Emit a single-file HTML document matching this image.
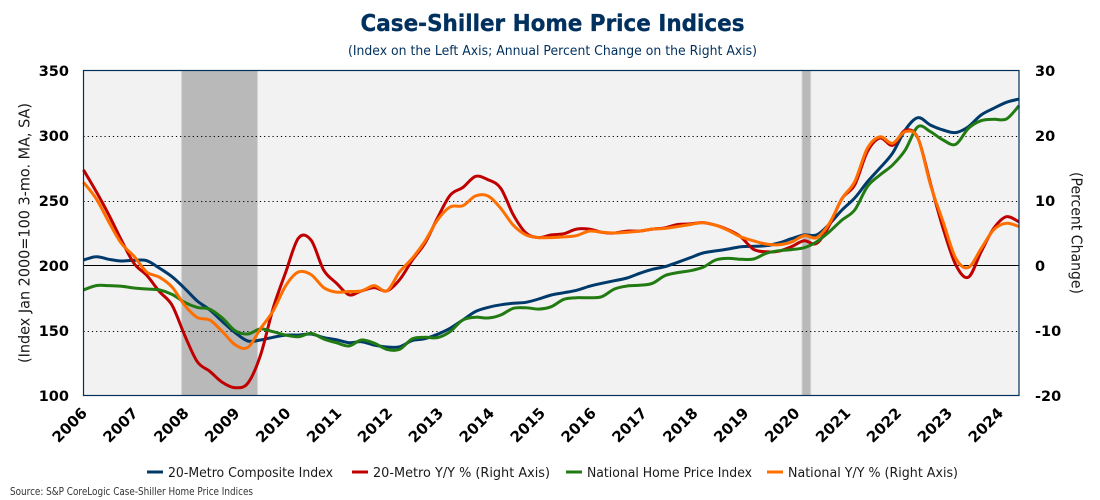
<!DOCTYPE html>
<html lang="en">
<head>
<meta charset="utf-8">
<title>Case-Shiller Home Price Indices</title>
<style>
html,body{margin:0;padding:0;background:#fff;}
svg{display:block;font-family:"DejaVu Sans","Liberation Sans",sans-serif;}
</style>
</head>
<body>
<svg id="chart" xmlns="http://www.w3.org/2000/svg" width="1100" height="500" viewBox="0 0 1100 500">
  <rect x="0" y="0" width="1100" height="500" fill="#ffffff"/>
  <text x="360.5" y="31" font-size="23" font-weight="bold" fill="#00305e" stroke="#00305e" stroke-width="0.35" textLength="384" lengthAdjust="spacingAndGlyphs">Case-Shiller Home Price Indices</text>
  <text x="348" y="55" font-size="13" fill="#00305e" textLength="409" lengthAdjust="spacingAndGlyphs">(Index on the Left Axis; Annual Percent Change on the Right Axis)</text>
  <rect x="83.5" y="70.5" width="935.5" height="325" fill="#f2f2f2"/>
  <g id="bands"></g>
  <g id="grid"></g>
  <g id="series"></g>
  <rect x="83.5" y="70.5" width="935.5" height="325" fill="none" stroke="#00305e" stroke-width="1.2"/>
  <g id="ticks"></g>
  <text transform="translate(29.5 363) rotate(-90)" font-size="15" fill="#1a1a1a" textLength="260" lengthAdjust="spacingAndGlyphs">(Index Jan 2000=100 3-mo. MA, SA)</text>
  <text transform="translate(1071.5 172) rotate(90)" font-size="15" fill="#1a1a1a" textLength="122" lengthAdjust="spacingAndGlyphs">(Percent Change)</text>
  <g>
    <g>
      <line x1="147" x2="163" y1="472" y2="472" stroke="#003a6b" stroke-width="3"/>
      <text x="168" y="477" font-size="13.5" fill="#1a1a1a" textLength="165" lengthAdjust="spacingAndGlyphs">20-Metro Composite Index</text>
    </g>
    <g>
      <line x1="352" x2="368" y1="472" y2="472" stroke="#c00000" stroke-width="3"/>
      <text x="373" y="477" font-size="13.5" fill="#1a1a1a" textLength="177" lengthAdjust="spacingAndGlyphs">20-Metro Y/Y % (Right Axis)</text>
    </g>
    <g>
      <line x1="566" x2="582" y1="472" y2="472" stroke="#217a12" stroke-width="3"/>
      <text x="587" y="477" font-size="13.5" fill="#1a1a1a" textLength="165" lengthAdjust="spacingAndGlyphs">National Home Price Index</text>
    </g>
    <g>
      <line x1="767" x2="783" y1="472" y2="472" stroke="#ff6f00" stroke-width="3"/>
      <text x="788" y="477" font-size="13.5" fill="#1a1a1a" textLength="170" lengthAdjust="spacingAndGlyphs">National Y/Y % (Right Axis)</text>
    </g>
  </g>
  <text x="10" y="495" font-size="10.5" fill="#333333" textLength="243" lengthAdjust="spacingAndGlyphs">Source: S&amp;P CoreLogic Case-Shiller Home Price Indices</text>
</svg>
<script>
// Quarterly samples, 2006 through mid-2024
const startYear = 2006;
const samplesPerYear = 4;
const metroIndex = [204.2,206.8,204.8,203.5,204,203.7,198,191.4,182.5,172.7,165.8,156.8,148.3,141.9,142.7,144.8,146.5,146.5,147.3,144.5,142.9,140.6,141.4,138.8,137.3,137.5,142.2,143.7,147.1,151.7,158.1,164.5,167.8,169.8,170.9,171.7,174.2,177.3,179.1,180.9,184,186.3,188.3,190.4,194,197.1,199.1,202.5,206,209.6,211.2,212.7,214.5,214.8,215.2,217.3,220.6,223.5,223.5,231.9,242.7,251.9,264.2,275,286.5,304.2,313.7,308,304.2,302.2,306.8,315.8,320.9,325.5,328];
const metroYoY = [14.7,11.4,7.8,3.9,0.3,-1.5,-4,-6.1,-10.7,-14.8,-16.3,-18,-18.8,-18.1,-13.8,-6.6,-1,4.2,3.9,-0.7,-2.7,-4.5,-3.9,-3.4,-3.9,-2.2,0.8,3.4,7.3,10.8,12,13.7,13.2,11.9,7.8,5,4.3,4.7,4.9,5.6,5.6,5.1,5,5.3,5.3,5.6,5.8,6.3,6.4,6.6,6.2,5.5,4.4,2.5,2.1,2.2,2.9,3.8,3.4,6.2,10.3,12.4,17.5,19.6,18.5,20.8,19.6,12.6,5.7,0.1,-1.8,2.1,5.7,7.5,6.7];
const nationalIndex = [181.2,184.5,184.5,184,182.7,181.9,181.2,177.8,171.7,167.8,166.3,159.4,149.8,147.3,151.2,149.1,146.5,145.2,147.8,143.5,140.6,138.1,142.7,140.2,135.5,135.5,143.5,144.8,144.5,149.1,158.1,160.2,159.6,161.9,167.1,167.5,166.5,168.3,174,175.2,175.2,176,181.9,184.2,184.8,186.3,192.2,194.5,196,198.6,204.2,205.5,204.8,205,209.4,211.4,212.2,213.7,218.3,226,235,242.7,260.6,269.6,277.3,288.8,306.8,302.9,296.5,293.2,305.5,311.4,312.5,312.7,322.9];
const nationalYoY = [12.8,10.3,6.7,3.4,1.4,-1,-1.8,-3.3,-6.1,-8,-8.4,-10.2,-12.2,-12.6,-9.7,-7,-3.1,-1,-1.4,-3.4,-4.1,-4,-3.9,-3.1,-3.9,-1,1.1,3.7,7,9,9.2,10.7,10.7,8.8,6.2,4.7,4.3,4.3,4.4,4.6,5.3,5.1,5,5.1,5.3,5.6,5.7,6,6.3,6.6,6.2,5.4,4.4,3.8,3.3,3.2,3.6,4.6,4.3,6.5,10.3,12.9,18,19.8,18.8,20.6,19.6,12.4,6.7,1.1,-0.3,2.6,5.5,6.5,6];
const yearLabels = ["2006","2007","2008","2009","2010","2011","2012","2013","2014","2015","2016","2017","2018","2019","2020","2021","2022","2023","2024"];
const leftTicks = [100,150,200,250,300,350];
const rightTicks = [-20,-10,0,10,20,30];
const gridDotted = [150,250,300];
const recessionStarts = [2007.94,2020.21];
const recessionEnds = [2009.44,2020.38];

const NS = "http://www.w3.org/2000/svg";
const plotL = 83.5, plotR = 1019, plotT = 70.5, plotB = 395.5;
const xIndex = i => plotL + (i / (metroIndex.length - 1)) * (plotR - plotL);
const xYear = y => xIndex((y - startYear) * samplesPerYear);
const yLeft = v => plotB - (v - 100) / 250 * (plotB - plotT);
const yRight = v => plotB - (v + 20) / 50 * (plotB - plotT);
const xLabel = i => 88 + i * 50.9;

function smoothPath(values, yFn) {
  const pts = values.map((v, i) => [xIndex(i), yFn(v)]);
  let d = "M" + pts[0][0].toFixed(1) + " " + pts[0][1].toFixed(1);
  for (let i = 0; i < pts.length - 1; i++) {
    const p0 = pts[Math.max(i - 1, 0)], p1 = pts[i], p2 = pts[i + 1], p3 = pts[Math.min(i + 2, pts.length - 1)];
    const c1x = p1[0] + (p2[0] - p0[0]) / 6, c1y = p1[1] + (p2[1] - p0[1]) / 6;
    const c2x = p2[0] - (p3[0] - p1[0]) / 6, c2y = p2[1] - (p3[1] - p1[1]) / 6;
    d += "C" + c1x.toFixed(1) + " " + c1y.toFixed(1) + " " + c2x.toFixed(1) + " " + c2y.toFixed(1) + " " + p2[0].toFixed(1) + " " + p2[1].toFixed(1);
  }
  return d;
}

const bandsG = document.getElementById("bands");
recessionStarts.forEach((s, i) => {
  const r = document.createElementNS(NS, "rect");
  
  
  r.setAttribute("x", xYear(s));
  r.setAttribute("y", plotT);
  r.setAttribute("width", xYear(recessionEnds[i]) - xYear(s));
  r.setAttribute("height", plotB - plotT);
  r.setAttribute("fill", "#b9b9b9");
  r.setAttribute("stroke", "#d2d2d2");
  r.setAttribute("stroke-width", "1");
  bandsG.appendChild(r);
});

const gridG = document.getElementById("grid");
gridDotted.forEach(v => {
  const l = document.createElementNS(NS, "line");
  
  
  l.setAttribute("x1", plotL);
  l.setAttribute("x2", plotR);
  l.setAttribute("y1", Math.round(yLeft(v)) + 0.5);
  l.setAttribute("y2", Math.round(yLeft(v)) + 0.5);
  l.setAttribute("stroke", "#000");
  l.setAttribute("stroke-width", "1");
  l.setAttribute("stroke-dasharray", "1.2 3");
  gridG.appendChild(l);
});
const zeroLine = document.createElementNS(NS, "line");


zeroLine.setAttribute("x1", plotL);
zeroLine.setAttribute("x2", plotR);
zeroLine.setAttribute("y1", yLeft(200));
zeroLine.setAttribute("y2", yLeft(200));
zeroLine.setAttribute("stroke", "#000");
zeroLine.setAttribute("stroke-width", "1");
gridG.appendChild(zeroLine);

const seriesG = document.getElementById("series");
function addLine(values, yFn, color) {
  const p = document.createElementNS(NS, "path");
  p.setAttribute("d", smoothPath(values, yFn));
  p.setAttribute("fill", "none");
  p.setAttribute("stroke", color);
  p.setAttribute("stroke-width", "3");
  p.setAttribute("stroke-linejoin", "round");
  seriesG.appendChild(p);
  return p;
}
const metroIndexLine = addLine(metroIndex, yLeft, "#003a6b");


const metroYoYLine = addLine(metroYoY, yRight, "#c00000");


const nationalIndexLine = addLine(nationalIndex, yLeft, "#217a12");


const nationalYoYLine = addLine(nationalYoY, yRight, "#ff6f00");



const ticksG = document.getElementById("ticks");
function addText(str, x, y, anchor, size) {
  const t = document.createElementNS(NS, "text");
  t.textContent = str;
  t.setAttribute("x", x);
  t.setAttribute("y", y);
  t.setAttribute("text-anchor", anchor);
  t.setAttribute("font-size", size);
  t.setAttribute("font-weight", "bold");
  t.setAttribute("fill", "#000");
  ticksG.appendChild(t);
  return t;
}
leftTicks.forEach(v => {
  const t = addText(String(v), 69, yLeft(v) + 5.5, "end", 14.5);
  
  
});
rightTicks.forEach(v => {
  const t = addText(String(v), 1035, yRight(v) + 5.5, "start", 14.5);
  
  
});
yearLabels.forEach((lab, i) => {
  const t = addText(lab, xLabel(i), 414, "end", 15);
  t.setAttribute("transform", "rotate(-45 " + xLabel(i) + " 414)");
  
  
});
</script>
</body>
</html>
